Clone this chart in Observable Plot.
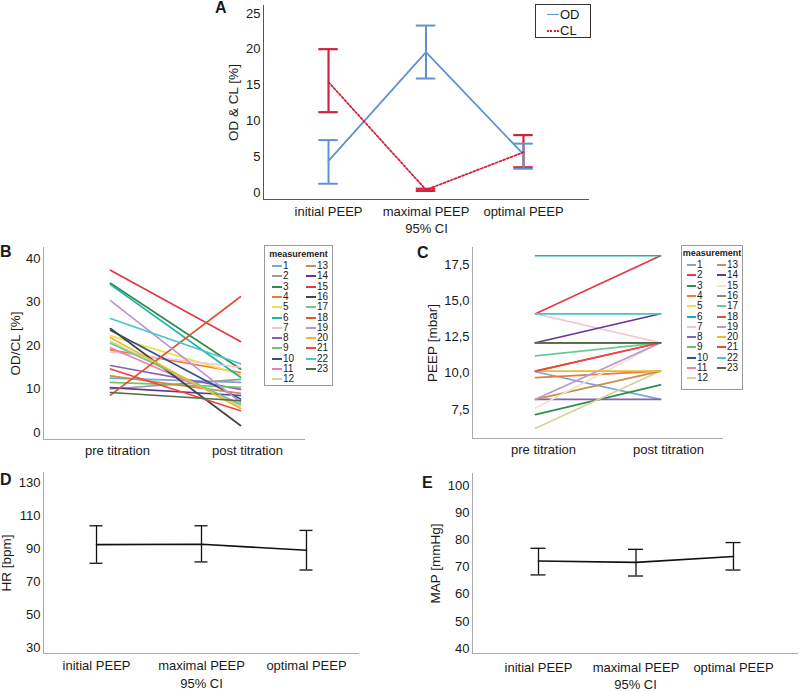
<!DOCTYPE html>
<html><head><meta charset="utf-8">
<script src="https://cdn.jsdelivr.net/npm/d3@7"></script>
<script src="https://cdn.jsdelivr.net/npm/@observablehq/plot@0.6"></script>
<style>
body{margin:0;background:#fff;font-family:"Liberation Sans",Arial,sans-serif;color:#1a1a1a;}
#root{position:relative;width:800px;height:692px;overflow:hidden;background:#fff;}
.panel{position:absolute;}
.lg{position:absolute;background:#fff;box-sizing:border-box;}
</style></head>
<body><div id="root"></div>
<script>
// ---------- data ----------
const peepCats = ["initial PEEP", "maximal PEEP", "optimal PEEP"];
const odMean = [4.4, 19.6, 5.3];
const odLow  = [1.2, 15.9, 3.3];
const odHigh = [7.3, 23.3, 6.8];
const clMean = [15.4, 0.35, 5.6];
const clLow  = [11.2, 0.2, 3.5];
const clHigh = [20.0, 0.5, 8.0];

const titrCats = ["pre titration", "post titration"];
const measurements = [1,2,3,4,5,6,7,8,9,10,11,12,13,14,15,16,17,18,19,20,21,22,23];
const odclPre  = [12.5,10.0,34.3,19.0,22.2,34.0,18.5,15.4,11.5,23.5,19.5,21.0,13.0,10.3,37.3,23.9,20.5,8.6,30.3,21.8,14.6,26.2,9.2];
const odclPost = [11.5,12.2,14.6,13.8,13.3,12.7,15.0,9.9,10.4,7.7,6.5,6.0,9.0,8.5,20.9,1.6,6.5,31.2,7.0,5.5,5.0,15.8,7.3];
const peepPre  = [10.1,14.1,7.15,9.7,12.1,18.1,14.1,8.2,12.1,12.1,12.1,6.2,8.2,12.1,7.6,12.1,11.2,10.15,8.2,10.15,10.15,14.1,12.1];
const peepPost = [8.2,18.1,9.2,10.15,12.1,18.1,12.1,8.2,12.1,12.1,12.1,10.15,10.15,14.1,12.1,12.1,12.1,12.1,12.1,10.15,12.1,14.1,12.1];

const hrMean = [92.4, 92.6, 89.0];
const hrLow  = [81.1, 81.9, 77.0];
const hrHigh = [103.8, 103.8, 101.0];
const mapMean = [72.2, 71.7, 73.9];
const mapLow  = [67.1, 66.7, 68.9];
const mapHigh = [76.9, 76.5, 79.0];

const ticksA = [0,5,10,15,20,25];
const ticksB = [0,10,20,30,40];
const ticksC = [7.5,10,12.5,15,17.5];
const ticksD = [30,50,70,90,110,130];
const ticksE = [40,50,60,70,80,90,100];

// ---------- styles ----------
const colorsB = ["#7aa6d8","#9b9b9b","#2f8c4f","#ee7a3a","#f0e04a","#1fb2a5","#f5c3d3","#8a5fb4","#6cc46c","#33508f","#ee80b0","#d8d29a","#c98d4e","#6a3294","#e03a48","#444444","#6cc994","#df552e","#bb95d6","#e8bd2c","#ef4444","#4ac3cc","#4f6e43"];
const colorsC = colorsB.slice();
colorsC[1] = "#e03a48"; colorsC[14] = "#eee5cc"; colorsC[15] = "#888888";
const blue = "#5f93d0", red = "#d2233d";

const root = document.getElementById("root");
const idx3 = peepCats.map((_, i) => i);
const idx2 = titrCats.map((_, i) => i);

function place(el, left, top) {
  const d = document.createElement("div");
  d.className = "panel";
  d.style.left = left + "px"; d.style.top = top + "px";
  d.appendChild(el); root.appendChild(d);
}

function basePlot(o) {
  const marks = [
    Plot.ruleY([o.yDomain[0]], {stroke: o.axisColor, strokeWidth: 1}),
    Plot.ruleX([o.xDomain[0]], {stroke: o.axisColor, strokeWidth: 1}),
    Plot.axisY(o.yTicks, {tickSize: 0, tickPadding: o.yPad ?? 3, tickFormat: o.yFmt, label: null}),
    Plot.axisX(o.xTicks, {tickSize: 0, tickPadding: o.xPad, tickFormat: i => o.cats[i], label: null, dx: o.xdx || 0}),
    Plot.text([o.yLabel], {frameAnchor: "left", textAnchor: "middle", lineAnchor: "middle", rotate: -90, dx: o.yLabelDx, fontSize: 13.5}),
  ];
  if (o.ciDy) marks.push(Plot.text(["95% CI"], {frameAnchor: "bottom", textAnchor: "middle", lineAnchor: "middle", dy: o.ciDy, fontSize: 13}));
  return Plot.plot({
    width: o.width, height: o.height,
    marginTop: o.mt, marginRight: o.mr, marginBottom: o.mb, marginLeft: o.ml,
    x: {type: "linear", domain: o.xDomain},
    y: {type: "linear", domain: o.yDomain},
    style: {fontFamily: "Liberation Sans, Arial, sans-serif", fontSize: "13px", background: "transparent", overflow: "visible", color: "#1a1a1a"},
    marks: marks.concat(o.marks)
  });
}

function ciMarks(mean, lo, hi, stroke, cap, opts = {}) {
  const rows = idx3.map(i => ({i, mean: mean[i], lo: lo[i], hi: hi[i]}));
  const bw = opts.barWidth || 1.3;
  const out = [];
  if (!opts.noLine) out.push(Plot.line(rows, {x: "i", y: "mean", stroke: opts.lineStroke || stroke, strokeWidth: opts.lineWidth || 1.6, strokeDasharray: opts.dash}));
  if (!opts.noBars) out.push(
    Plot.ruleX(rows, {x: "i", y1: "lo", y2: "hi", stroke, strokeWidth: bw}),
    Plot.ruleY(rows, {y: "lo", x1: d => d.i - cap, x2: d => d.i + cap, stroke, strokeWidth: bw}),
    Plot.ruleY(rows, {y: "hi", x1: d => d.i - cap, x2: d => d.i + cap, stroke, strokeWidth: bw})
  );
  return out;
}

// ---------- Panel A ----------
place(basePlot({
  width: 400, height: 240, mt: 5, mr: 11, mb: 41, ml: 63,
  xDomain: [-0.667, 2.677], yDomain: [-1, 26.1],
  yTicks: ticksA, xTicks: idx3, cats: peepCats, xPad: 7,
  yLabel: "OD & CL [%]", yLabelDx: -30, ciDy: 29, axisColor: "#555",
  marks: [
    ...ciMarks(clMean, clLow, clHigh, red, 0.1, {barWidth: 2.2, noLine: true}),
    ...ciMarks(odMean, odLow, odHigh, blue, 0.1, {lineWidth: 1.8, barWidth: 2}),
    ...ciMarks(clMean, clLow, clHigh, red, 0.1, {lineWidth: 1.8, dash: "2,2", noBars: true}),
  ]
}), 200, 0);

// ---------- Panel B ----------
function lineRows(pre, post) {
  const rows = [];
  measurements.forEach((m, k) => { rows.push({m, t: 0, v: pre[k]}); rows.push({m, t: 1, v: post[k]}); });
  return rows;
}
place(basePlot({
  width: 320, height: 225, mt: 12, mr: 15, mb: 21, ml: 43,
  xDomain: [-0.515, 1.5], yDomain: [-1.61, 42.53],
  yTicks: ticksB, xTicks: idx2, cats: titrCats, xPad: 6, xdx: 7,
  yLabel: "OD/CL [%]", yLabelDx: -28, axisColor: "#aaa",
  marks: [Plot.line(lineRows(odclPre, odclPost), {x: "t", y: "v", z: "m", stroke: d => colorsB[d.m - 1], strokeWidth: 1.7})]
}), 0, 235);

// ---------- Panel C ----------
place(basePlot({
  width: 340, height: 225, mt: 12, mr: 17, mb: 22, ml: 72,
  xDomain: [-0.504, 1.504], yDomain: [5.5, 18.67],
  yTicks: ticksC, yFmt: d => d.toFixed(1).replace(".", ","), xTicks: idx2, cats: titrCats, xPad: 6, xdx: 8,
  yLabel: "PEEP [mbar]", yLabelDx: -40, axisColor: "#aaa",
  marks: [Plot.line(lineRows(peepPre, peepPost), {x: "t", y: "v", z: "m", stroke: d => colorsC[d.m - 1], strokeWidth: 1.7})]
}), 400, 235);

// ---------- Panel D ----------
place(basePlot({
  width: 400, height: 252, mt: 32, mr: 41, mb: 39, ml: 43,
  xDomain: [-0.505, 2.505], yDomain: [26.4, 136.1],
  yTicks: ticksD, xTicks: idx3, cats: peepCats, xPad: 7,
  yLabel: "HR [bpm]", yLabelDx: -37, ciDy: 30, axisColor: "#aaa",
  marks: ciMarks(hrMean, hrLow, hrHigh, "#111", 0.062, {lineWidth: 1.6, barWidth: 1.3})
}), 0, 440);

// ---------- Panel E ----------
place(basePlot({
  width: 400, height: 252, mt: 33, mr: 2, mb: 39, ml: 72,
  xDomain: [-0.677, 2.667], yDomain: [38.2, 104.4],
  yTicks: ticksE, xTicks: idx3, cats: peepCats, xPad: 9,
  yLabel: "MAP [mmHg]", yLabelDx: -37, ciDy: 31, axisColor: "#aaa",
  marks: ciMarks(mapMean, mapLow, mapHigh, "#111", 0.077, {lineWidth: 1.6, barWidth: 1.3})
}), 400, 440);

// ---------- Legends ----------
function lgBox(left, top, w, h, border) {
  const b = document.createElement("div");
  b.className = "lg";
  b.style.cssText += `left:${left}px;top:${top}px;width:${w}px;height:${h}px;border:1px solid ${border};`;
  root.appendChild(b);
  return b;
}
function addDiv(parent, css, text) {
  const d = document.createElement("div");
  d.style.cssText = "position:absolute;" + css;
  if (text != null) d.textContent = text;
  parent.appendChild(d);
  return d;
}
// Legend A
const la = lgBox(535, 4, 56, 34, "#333");
addDiv(la, `left:11px;top:9px;width:12px;height:0;border-top:1.8px solid ${blue};`);
addDiv(la, "left:24px;top:2px;font-size:13px;line-height:15px;", "OD");
addDiv(la, `left:11px;top:25px;width:12px;height:0;border-top:2px dotted ${red};`);
addDiv(la, "left:24px;top:18px;font-size:13px;line-height:15px;", "CL");

function measLegend(left, top, w, h, colors, cols, lineW, row0) {
  const b = lgBox(left, top, w, h, "#999");
  addDiv(b, `left:0;width:${w - 2}px;top:${row0 - 17}px;text-align:center;font-weight:bold;font-size:9px;line-height:11px;`, "measurement");
  measurements.forEach((m, i) => {
    const c = i < 12 ? 0 : 1, r = i < 12 ? i : i - 12;
    const y = row0 + r * 10.3;
    addDiv(b, `left:${cols[c]}px;top:${y - 1}px;width:${lineW}px;height:2px;background:${colors[i]};`);
    addDiv(b, `left:${cols[c] + lineW + 1}px;top:${y - 6}px;font-size:10px;line-height:12px;`, String(m));
  });
}
measLegend(264, 245, 69, 141, colorsB, [7, 41], 10, 20);
measLegend(681, 245, 62, 145, colorsC, [5, 35], 9, 19);

// ---------- Panel letters ----------
[["A", 215, 0], ["B", 0, 244], ["C", 417, 245], ["D", 0, 472], ["E", 422, 475]].forEach(([t, x, y]) => {
  addDiv(root, `left:${x}px;top:${y}px;font-weight:bold;font-size:16px;line-height:16px;`, t);
});
</script>
</body></html>
